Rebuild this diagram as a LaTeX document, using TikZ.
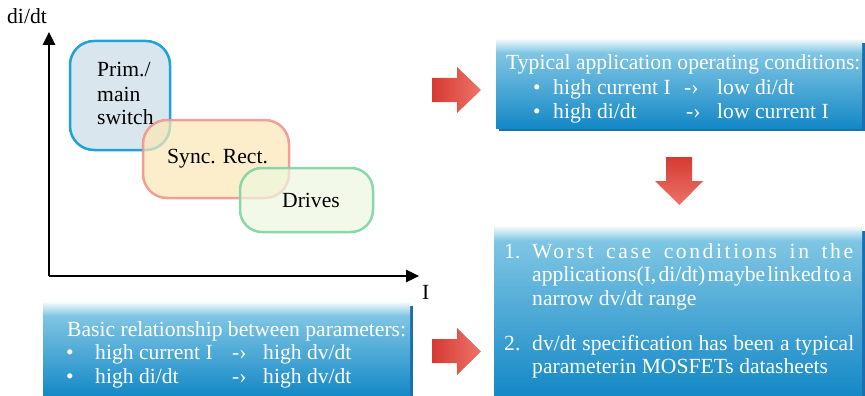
\documentclass[tikz,border=0pt]{standalone}
\usepackage{fontspec}
\setmainfont{Liberation Serif}
\usetikzlibrary{arrows.meta}
\definecolor{bxlight}{HTML}{80C6E4}
\definecolor{bxdark}{HTML}{1488C6}
\definecolor{bxshadow}{HTML}{1B6FAE}
\definecolor{redA}{HTML}{D63A32}
\definecolor{redB}{HTML}{EC7369}
\definecolor{primline}{HTML}{1DA3D9}
\definecolor{primfill}{HTML}{D9E6EE}
\definecolor{syncline}{HTML}{F0908A}
\definecolor{syncfill}{HTML}{FBE8B6}
\definecolor{drvline}{HTML}{82D2A4}
\definecolor{drvfill}{HTML}{EEF7DE}
\begin{document}
\begin{tikzpicture}[x=1pt,y=-1pt,
  txt/.style={inner sep=0pt,anchor=base west,font=\fontsize{21.6}{24}\selectfont},
  wtxt/.style={txt,text=white},
  region/.style={line width=2.5pt,rounded corners=24pt,inner sep=0pt},
  axis/.style={line width=2.6pt,-{Triangle[length=13pt,width=12pt]}}
]
\useasboundingbox (0,0) rectangle (865,396);

% ---------- chart ----------
\coordinate (origin) at (49,276);
\coordinate (ytip) at (49,32);
\coordinate (xtip) at (419,276);
\draw[axis] (origin) -- (ytip);
\draw[axis] (origin) -- (xtip);
\node[txt] (ylab) at (7,24) {di/dt};
\node[txt] (xlab) at (422,299) {I};

\node[region,draw=primline,fill=primfill,minimum width=100pt,minimum height=109pt] (prim) at (120,95.5) {};
\node[region,draw=syncline,fill=syncfill,fill opacity=0.72,draw opacity=0.85,minimum width=146pt,minimum height=78pt] (sync) at (216,159) {};
\node[region,draw=drvline,fill=drvfill,fill opacity=0.7,draw opacity=0.9,rounded corners=22pt,minimum width=133pt,minimum height=64pt] (drv) at (306.5,200) {};

\node[txt] (primA) at (97,77) {Prim./};
\node[txt] (primB) at (97,101) {main};
\node[txt] (primC) at (97,124) {switch};
\node[txt] (synct) at (167,163) {Sync. Rect.};
\node[txt] (drvt) at (282,207) {Drives};

% ---------- blue boxes ----------
% top right
\fill[bxshadow] (499,43) rectangle (865,131);
\shade[top color=bxlight,bottom color=bxdark] (496,52) rectangle (862,128);
\shade[top color=white,bottom color=bxlight] (496,38) rectangle (862,52.5);
% bottom left
\fill[bxshadow] (46,306) rectangle (413,396);
\shade[top color=bxlight,bottom color=bxdark] (43,315) rectangle (410,396);
\shade[top color=white,bottom color=bxlight] (43,301) rectangle (410,315.5);
% bottom right
\fill[bxshadow] (497,231) rectangle (865,396);
\shade[top color=bxlight,bottom color=bxdark] (494,240) rectangle (862,396);
\shade[top color=white,bottom color=bxlight] (494,225) rectangle (862,240.5);

% top right text
\node[wtxt] (tA) at (506,70) {Typical application operating conditions:};
\node[wtxt] (tB1) at (533,94) {•};
\node[wtxt] (tB2) at (553,94) {high current I};
\node[wtxt] (tB3) at (684,94) {-›};
\node[wtxt] (tB4) at (717,94) {low di/dt};
\node[wtxt] (tC1) at (533,118) {•};
\node[wtxt] (tC2) at (553,118) {high di/dt};
\node[wtxt] (tC3) at (686,118) {-›};
\node[wtxt] (tC4) at (717,118) {low current I};

% bottom left text
\node[wtxt] (bA) at (67,336) {Basic relationship between parameters:};
\node[wtxt] (bB1) at (66,359) {•};
\node[wtxt] (bB2) at (95,359) {high current I};
\node[wtxt] (bB3) at (232,359) {-›};
\node[wtxt] (bB4) at (263,359) {high dv/dt};
\node[wtxt] (bC1) at (66,383) {•};
\node[wtxt] (bC2) at (95,383) {high di/dt};
\node[wtxt] (bC3) at (232,383) {-›};
\node[wtxt] (bC4) at (263,383) {high dv/dt};

% bottom right text
\node[wtxt] (rA0) at (504,258) {1.};
\node[wtxt] (rA1) at (532,258) {\addfontfeature{LetterSpace=12}\makebox[321pt][s]{Worst case conditions in the}};
\node[wtxt] (rA2) at (532,281) {\spaceskip=1.5pt plus 20pt minus 1pt\makebox[320pt][s]{applications(I, di/dt) maybe linked to a}};
\node[wtxt] (rA3) at (532,305) {narrow dv/dt range};
\node[wtxt] (rB0) at (504,350) {2.};
\node[wtxt] (rB1) at (532,350) {\makebox[322pt][s]{dv/dt specification has been a typical}};
\node[wtxt] (rB2) at (532,373) {parameter\kern1pt in MOSFETs datasheets};

% ---------- red arrows ----------
\shade[left color=redA,right color=redB]
  (432,78) -- (457,78) -- (457,67) -- (481,90) -- (457,113) -- (457,102) -- (432,102) -- cycle;
\shade[left color=redA,right color=redB]
  (432,339) -- (457,339) -- (457,328) -- (481,351.5) -- (457,375) -- (457,363) -- (432,363) -- cycle;
\shade[top color=redA,bottom color=redB]
  (666,157) -- (692,157) -- (692,181) -- (703,181) -- (679.5,205) -- (655,181) -- (666,181) -- cycle;
\end{tikzpicture}
\end{document}
